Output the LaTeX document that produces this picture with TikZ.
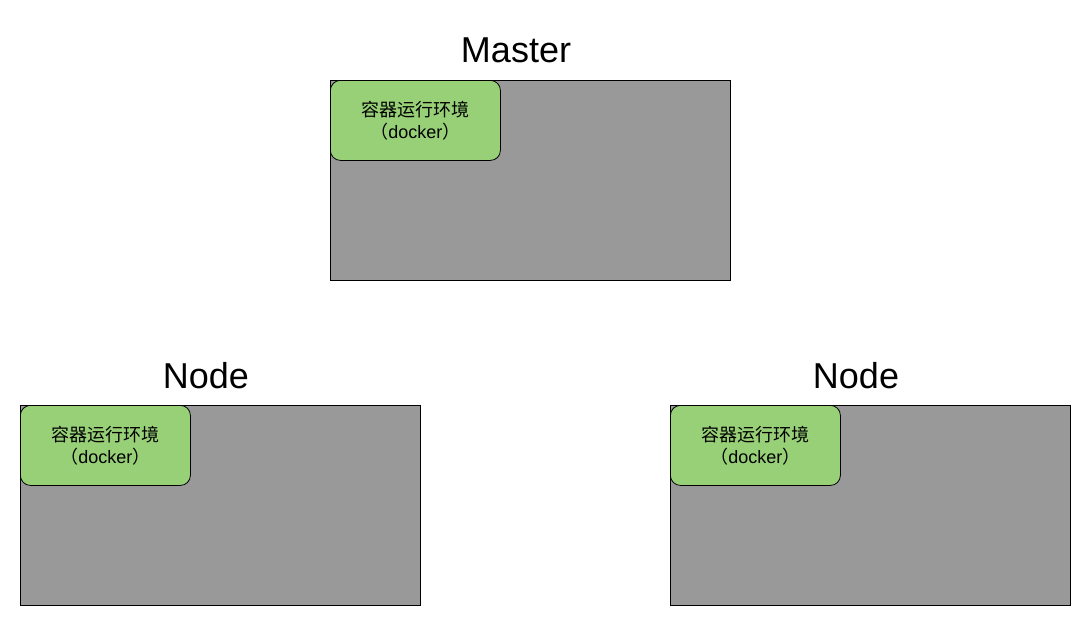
\documentclass[tikz,border=0pt]{standalone}
\usepackage{fontspec}
\setmainfont{Liberation Sans}
\newfontfamily\cjk{Noto Sans CJK SC}
\definecolor{boxgray}{HTML}{999999}
\definecolor{envgreen}{HTML}{97D077}
\begin{document}
\begin{tikzpicture}[x=1pt,y=-1pt,
  hostbox/.style={draw=black,fill=boxgray,line width=0.8pt,minimum width=400pt,minimum height=200pt,anchor=north west,inner sep=0pt},
  envbox/.style={draw=black,fill=envgreen,line width=0.8pt,rounded corners=10pt,minimum width=170pt,minimum height=80pt,anchor=north west,inner sep=0pt,align=center,font=\fontsize{18}{22}\selectfont},
  title/.style={font=\fontsize{36}{40}\selectfont,inner sep=0pt}]
\useasboundingbox (0,0) rectangle (1091,626);
% Master
\node[hostbox] (mh) at (330,80) {};
\node[envbox] (me) at (330,80) {{\cjk 容器运行环境}\\{\cjk （}docker{\cjk ）}};
\node[title] (mt) at (516,50) {Master};
% Node left
\node[hostbox] (lh) at (20,405) {};
\node[envbox] (le) at (20,405) {{\cjk 容器运行环境}\\{\cjk （}docker{\cjk ）}};
\node[title] (lt) at (206,376) {Node};
% Node right
\node[hostbox] (rh) at (670,405) {};
\node[envbox] (re) at (670,405) {{\cjk 容器运行环境}\\{\cjk （}docker{\cjk ）}};
\node[title] (rt) at (856,376) {Node};
\end{tikzpicture}
\end{document}
